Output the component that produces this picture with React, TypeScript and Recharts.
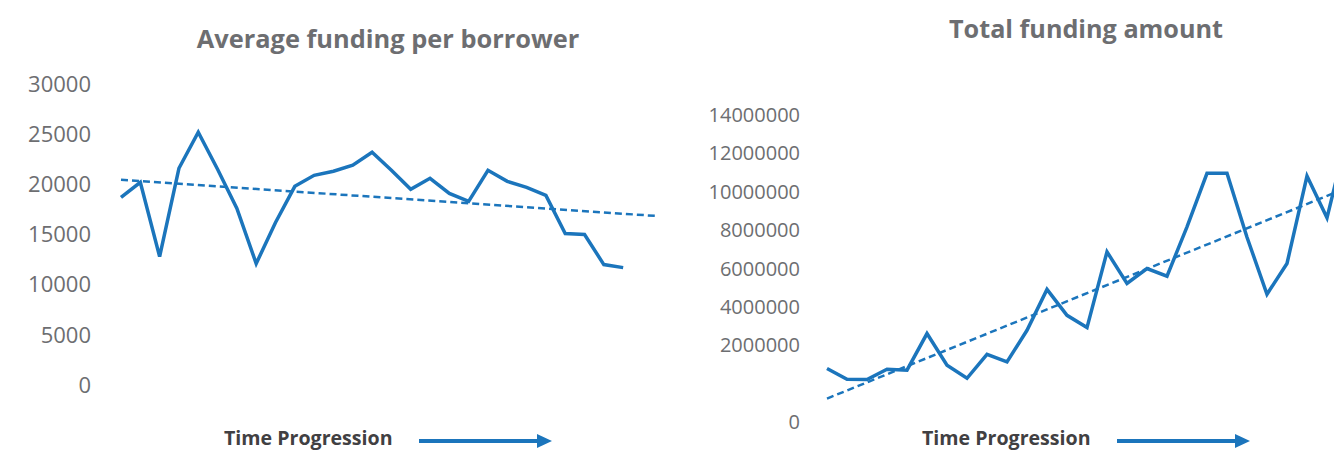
import React from "react";
import { LineChart, Line, XAxis, YAxis } from "recharts";

// values, one per period
const avgFunding = [
  18700, 20200, 12800, 21600, 25200, 21500, 17600, 12100, 16200, 19800, 20900,
  21300, 21900, 23200, 21400, 19500, 20600, 19100, 18300, 21400, 20300, 19700,
  18900, 15100, 15000, 12000, 11700,
];
const avgTrendEnds = [20450, 16850];
const avgTicks = [0, 5000, 10000, 15000, 20000, 25000, 30000];

const totalFunding = [
  790000, 230000, 210000, 750000, 700000, 2610000, 960000, 280000, 1530000,
  1130000, 2780000, 4910000, 3560000, 2920000, 6870000, 5220000, 6000000,
  5600000, 8170000, 10960000, 10960000, 7630000, 4660000, 6260000, 10820000,
  8640000, 12900000,
];
const totalTrendEnds = [-780000, 10630000];
const totalTicks = [
  -2000000, 2000000, 4000000, 6000000, 8000000, 10000000, 12000000, 14000000,
];

const BLUE = "#1b75bc";
const GREY = "#6d6e71";
const FONT = "'Open Sans', 'Noto Sans', sans-serif";

const avgRows = avgFunding.map((v, i) => ({ t: i, v }));
const avgTrend = [
  { t: 0, v: avgTrendEnds[0] },
  { t: 27.7, v: avgTrendEnds[1] },
];
const totalRows = totalFunding.map((v, i) => ({ t: i, v }));
const totalTrend = [
  { t: 0, v: totalTrendEnds[0] },
  { t: 27, v: totalTrendEnds[1] },
];

const TimeLabel = ({ x, arrowX }: { x: number; arrowX: number }) => (
  <g>
    <text x={x} y={445} fontFamily={FONT} fontWeight={700} fontSize={19.6} fill="#414042">
      Time Progression
    </text>
    <line x1={arrowX} y1={441} x2={arrowX + 120} y2={441} stroke={BLUE} strokeWidth={4} />
    <polygon
      points={`${arrowX + 118},434 ${arrowX + 133},441 ${arrowX + 118},448`}
      fill={BLUE}
    />
  </g>
);

export default function App() {
  return (
    <div
      style={{
        position: "absolute",
        left: 0,
        top: 0,
        width: 1334,
        height: 450,
        overflow: "hidden",
        background: "#fff",
      }}
    >
      <div style={{ position: "absolute", left: 0, top: 0 }}>
        <LineChart
          width={680}
          height={450}
          data={avgRows}
          margin={{ top: 84, right: 24, bottom: 65, left: 0 }}
        >
          <XAxis type="number" dataKey="t" domain={[0, 27.7]} hide />
          <YAxis
            width={121}
            domain={[0, 30000]}
            ticks={avgTicks}
            axisLine={false}
            tickLine={false}
            tickSize={0}
            tickMargin={30}
            tick={{ fill: GREY, fontSize: 22, fontFamily: FONT }}
          />
          <Line
            dataKey="v"
            stroke={BLUE}
            strokeWidth={3.5}
            dot={false}
            isAnimationActive={false}
          />
          <Line
            data={avgTrend}
            dataKey="v"
            stroke={BLUE}
            strokeWidth={2.5}
            strokeDasharray="7 4"
            dot={false}
            isAnimationActive={false}
          />
        </LineChart>
      </div>

      <div style={{ position: "absolute", left: 690, top: 0 }}>
        <LineChart
          width={680}
          height={450}
          data={totalRows}
          margin={{ top: 115, right: 3, bottom: 28, left: 0 }}
        >
          <XAxis type="number" dataKey="t" domain={[0, 27]} hide />
          <YAxis
            width={137}
            domain={[-2000000, 14000000]}
            ticks={totalTicks}
            axisLine={false}
            tickLine={false}
            tickSize={0}
            tickMargin={27}
            tickFormatter={(v: number) => (v < 0 ? "0" : String(v))}
            tick={{ fill: GREY, fontSize: 20, fontFamily: FONT }}
          />
          <Line
            dataKey="v"
            stroke={BLUE}
            strokeWidth={3.5}
            dot={false}
            isAnimationActive={false}
          />
          <Line
            data={totalTrend}
            dataKey="v"
            stroke={BLUE}
            strokeWidth={2.5}
            strokeDasharray="7 4"
            dot={false}
            isAnimationActive={false}
          />
        </LineChart>
      </div>

      <svg
        width={1334}
        height={450}
        style={{ position: "absolute", left: 0, top: 0, pointerEvents: "none" }}
      >
        <text
          x={388}
          y={48}
          textAnchor="middle"
          fontFamily={FONT}
          fontWeight={700}
          fontSize={25.4}
          fill={GREY}
        >
          Average funding per borrower
        </text>
        <text
          x={1086}
          y={38}
          textAnchor="middle"
          fontFamily={FONT}
          fontWeight={700}
          fontSize={25.2}
          fill={GREY}
        >
          Total funding amount
        </text>
        <TimeLabel x={224} arrowX={419} />
        <TimeLabel x={922} arrowX={1117} />
      </svg>
    </div>
  );
}
